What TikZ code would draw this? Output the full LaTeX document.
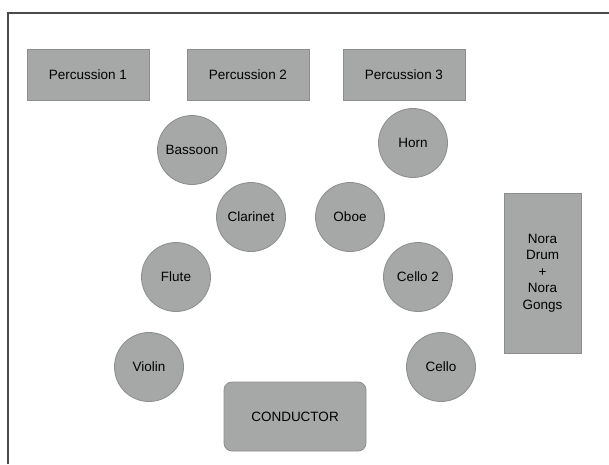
\documentclass[tikz,border=0pt]{standalone}
\usepackage{fontspec}
\setmainfont{Liberation Sans}
\definecolor{seatfill}{HTML}{A6A8A7}
\definecolor{seatline}{HTML}{8C8D8D}
\definecolor{framegray}{HTML}{4A4A4A}

\begin{document}
\begin{tikzpicture}[x=1pt,y=-1pt,
	seat/.style={circle,draw=seatline,fill=seatfill,line width=0.8pt,minimum size=69pt,inner sep=0pt,font=\fontsize{13.5}{15}\selectfont},
	block/.style={rectangle,draw=seatline,fill=seatfill,line width=0.8pt,inner sep=0pt,font=\fontsize{13.5}{16.5}\selectfont,align=center}]
	\useasboundingbox (0,0) rectangle (609,464);
	% stage frame
	\draw[framegray,line width=2pt] (7.5,464) -- (7.5,13) -- (609,13);
	% percussion row
	\node[block,minimum width=122pt,minimum height=51pt] (perc1) at (88,74.5) {Percussion 1};
	\node[block,minimum width=122pt,minimum height=51pt] (perc2) at (248,74.5) {Percussion 2};
	\node[block,minimum width=122pt,minimum height=51pt] (perc3) at (404,74.5) {Percussion 3};
	% winds
	\node[seat] (bassoon) at (192,150) {Bassoon};
	\node[seat] (horn) at (413,143) {Horn};
	\node[seat] (clarinet) at (251,217) {Clarinet};
	\node[seat] (oboe) at (350,217) {Oboe};
	% strings
	\node[seat] (flute) at (176,277) {Flute};
	\node[seat] (cello2) at (418,277) {Cello 2};
	\node[seat] (violin) at (149,367) {Violin};
	\node[seat] (cello) at (441,367) {Cello};
	% side and front
	\node[block,minimum width=77pt,minimum height=160pt] (nora) at (542.5,273) {Nora\\Drum\\+\\Nora\\Gongs};
	\node[block,rounded corners=8pt,minimum width=142pt,minimum height=69pt] (conductor) at (295,416.5) {CONDUCTOR};
\end{tikzpicture}
\end{document}
